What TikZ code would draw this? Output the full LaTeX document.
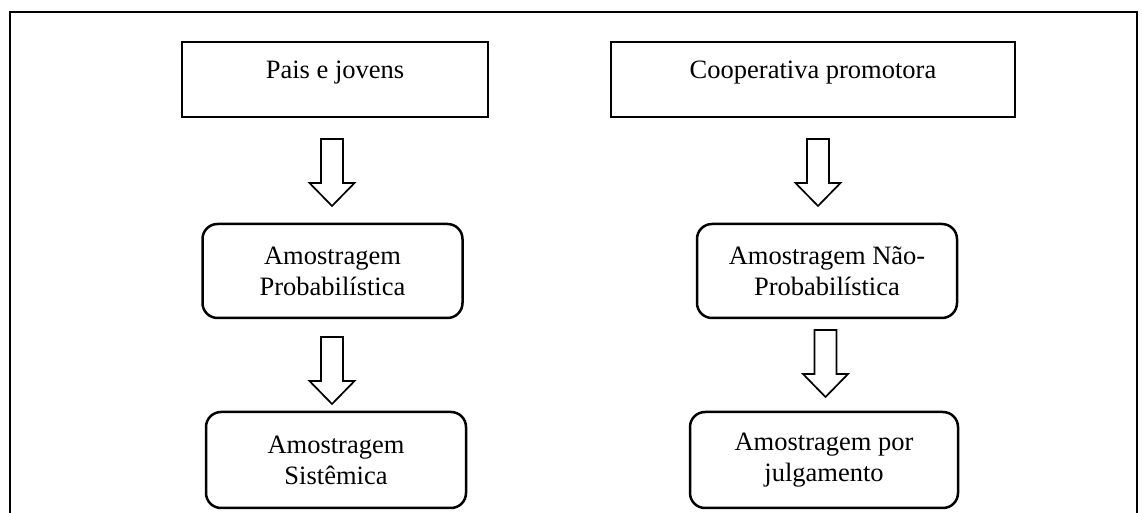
\documentclass[tikz,border=0pt]{standalone}
\usepackage{fontspec}
\setmainfont{Liberation Serif}
\usetikzlibrary{positioning}

\tikzset{
  framebox/.style={line width=1.35pt},
  squarebox/.style={draw, line width=1.25pt, inner sep=0pt, anchor=base,
    text height=18.5pt, text depth=19pt, font=\fontsize{13.25}{15.5}\selectfont},
  roundbox/.style={draw, line width=1.25pt, rounded corners=7.5pt, inner sep=0pt,
    align=center, minimum width=130pt, minimum height=47pt,
    font=\fontsize{13.25}{15.5}\selectfont},
  hollowdown/.pic={
    \draw[line width=0.85pt] (-11,0) -- (-11,44) -- (-22.5,44) -- (0,67)
      -- (22.5,44) -- (11,44) -- (11,0) -- cycle;
  }
}

\begin{document}
\begin{tikzpicture}[x=0.5pt, y=-0.5pt]
        \useasboundingbox (0,0) rectangle (1142,513);
        \draw[framebox] (10,513) -- (10,12) -- (1137,12) -- (1137,513);

        % left column
        \node[squarebox, minimum width=153pt] (pais) at (335,79) {Pais e jovens};
        \pic at (332,139) {hollowdown};
        \node[roundbox] (prob) at (332.5,271) {Amostragem\\Probabilística};
        \pic at (332,337) {hollowdown};
        \node[roundbox, minimum height=48pt] (sist) at (336,460) {Amostragem\\Sistêmica};

        % right column
        \node[squarebox, minimum width=202pt] (coop) at (813,79) {Cooperativa promotora};
        \pic at (818,139) {hollowdown};
        \node[roundbox] (naoprob) at (827,271) {Amostragem Não-\\Probabilística};
        \pic at (825.5,330) {hollowdown};
        \node[roundbox, minimum width=134pt, minimum height=48pt] (julg) at (824,460) {Amostragem por\\julgamento};
    \end{tikzpicture}
\end{document}
